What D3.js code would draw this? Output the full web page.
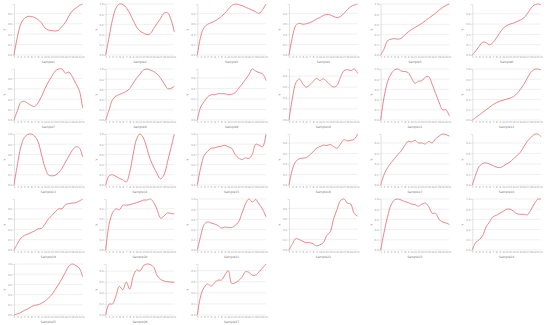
<!DOCTYPE html>
<html><head><meta charset="utf-8">
<script src="https://cdn.jsdelivr.net/npm/d3@7"></script>
<style>html,body{margin:0;padding:0;background:#fff;}svg{display:block;}</style>
</head><body>
<svg id="chart" width="550" height="325"></svg>
<script>
const xLabels = d3.range(1, 22).map(String);
const panelTitles = d3.range(1, 28).map(i => "Sample" + i);

const sample1 = [0,.35,.6,.7,.74,.74,.72,.68,.62,.52,.48,.47,.46,.48,.55,.63,.75,.85,.9,.95,.98];
const sample2 = [0,.35,.7,.92,1,.99,.93,.82,.68,.55,.47,.43,.4,.42,.52,.62,.72,.82,.83,.7,.45];
const sample3 = [0,.36,.53,.59,.62,.65,.69,.74,.8,.88,.95,.98,.97,.95,.92,.89,.86,.83,.8,.87,.98];
const sample4 = [0,.35,.57,.61,.59,.6,.62,.65,.69,.72,.76,.78,.77,.74,.72,.74,.8,.87,.93,.96,.98];
const sample5 = [0,.12,.28,.31,.32,.31,.33,.39,.45,.5,.54,.58,.62,.67,.72,.77,.82,.88,.93,.97,1];
const sample6 = [0,.08,.17,.25,.24,.2,.24,.33,.43,.52,.57,.6,.62,.65,.68,.72,.8,.9,.97,.99,.98];
const sample7 = [0,.18,.34,.36,.32,.28,.26,.33,.45,.6,.73,.84,.94,.98,.98,.9,.92,.83,.7,.57,.23];
const sample8 = [0,.2,.4,.47,.5,.53,.56,.62,.72,.82,.9,.98,1,.98,.95,.9,.82,.72,.62,.62,.66];
const sample9 = [0,.25,.35,.44,.48,.48,.5,.5,.5,.48,.49,.52,.6,.68,.77,.86,.97,.93,.9,.88,.75];
const sample10 = [0,.4,.68,.75,.66,.6,.64,.7,.76,.72,.75,.7,.64,.6,.63,.78,.9,.92,.9,.93,.85];
const sample11 = [0,.45,.75,.9,.98,1,.96,.95,.93,.82,.72,.76,.77,.84,.85,.7,.52,.35,.2,.2,.08];
const sample12 = [0,.05,.1,.15,.2,.25,.3,.34,.37,.39,.41,.43,.46,.52,.6,.7,.82,.93,.99,1,.98];
const sample13 = [0,.4,.75,.93,.99,1,.96,.85,.6,.35,.2,.18,.19,.24,.33,.45,.57,.68,.75,.73,.55];
const sample14 = [0,.18,.2,.17,.13,.1,.06,.25,.6,.9,1,.92,.72,.5,.35,.22,.12,.2,.45,.72,1];
const sample15 = [0,.35,.58,.66,.72,.73,.75,.76,.78,.75,.72,.6,.53,.5,.53,.52,.6,.8,.78,.75,1];
const sample16 = [0,.3,.45,.5,.51,.52,.57,.63,.7,.73,.76,.75,.77,.73,.7,.78,.86,.84,.85,.87,.97];
const sample17 = [0,.2,.33,.42,.5,.58,.65,.75,.83,.82,.85,.8,.8,.78,.83,.8,.88,.93,.97,.96,.93];
const sample18 = [0,.2,.35,.41,.42,.4,.37,.34,.33,.36,.4,.44,.5,.56,.62,.73,.83,.9,.96,.97,.92];
const sample19 = [0,.12,.23,.28,.31,.34,.37,.41,.42,.5,.6,.67,.74,.8,.8,.88,.9,.91,.92,.95,.99];
const sample20 = [0,.5,.72,.8,.78,.87,.87,.88,.9,.92,.94,.97,.97,.99,.92,.78,.62,.66,.72,.71,.7];
const sample21 = [0,.28,.5,.55,.53,.51,.48,.43,.45,.44,.44,.48,.55,.72,.9,1,.94,.99,.9,.8,.65];
const sample22 = [0,.12,.22,.2,.17,.14,.14,.12,.08,.1,.14,.28,.35,.6,.78,.95,.98,.9,.88,.7,.65];
const sample23 = [0,.35,.65,.88,.98,1,.98,.95,.93,.9,.89,.86,.9,.92,.85,.72,.72,.6,.55,.53,.5];
const sample24 = [0,.15,.2,.28,.45,.55,.65,.68,.72,.76,.8,.8,.76,.71,.7,.7,.69,.78,.9,.99,1];
const sample25 = [0,.02,.05,.09,.12,.16,.19,.2,.23,.27,.33,.4,.5,.6,.72,.84,.96,1,.97,.92,.75];
const sample26 = [0,.2,.2,.35,.52,.46,.6,.47,.7,.82,.8,.9,.93,.92,.87,.72,.65,.62,.61,.6,.6];
const sample27 = [0,.35,.5,.56,.52,.58,.63,.63,.72,.8,.57,.58,.62,.68,.78,.77,.72,.72,.78,.85,.92];

const allSeries = [sample1,sample2,sample3,sample4,sample5,sample6,sample7,sample8,sample9,
  sample10,sample11,sample12,sample13,sample14,sample15,sample16,sample17,sample18,
  sample19,sample20,sample21,sample22,sample23,sample24,sample25,sample26,sample27];

const svg = d3.select("#chart");
const cols = 6, cellW = 550 / cols, cellH = 65;
const mL = 14, mR = 9, mT = 4, mB = 10;
const lineColor = "#e47a7c";

allSeries.forEach((vals, i) => {
  const c = i % cols, r = Math.floor(i / cols);
  const g = svg.append("g").attr("transform", `translate(${c * cellW},${r * cellH})`);
  const x = d3.scalePoint().domain(xLabels).range([mL, cellW - mR]);
  const y = d3.scaleLinear().domain(d3.extent(vals)).range([cellH - mB, mT]);
  const ticks = y.ticks(4);
  g.selectAll(".grid").data(ticks).join("line")
    .attr("x1", mL).attr("x2", cellW - mR)
    .attr("y1", d => y(d)).attr("y2", d => y(d))
    .attr("stroke", "#e6e6e6").attr("stroke-width", 0.6);
  const ya = g.append("g").attr("transform", `translate(${mL},0)`)
    .call(d3.axisLeft(y).tickValues(ticks).tickSize(1.5).tickFormat(d3.format(".1f")));
  ya.select(".domain").attr("stroke", "#d0d0d0").attr("stroke-width", 0.6);
  ya.selectAll(".tick line").attr("stroke", "#d0d0d0").attr("stroke-width", 0.5);
  ya.selectAll("text").attr("font-size", 2.6).attr("fill", "#999").attr("x", -2).attr("font-family", "DejaVu Sans");
  const xa = g.append("g").attr("transform", `translate(0,${cellH - mB + 1})`)
    .call(d3.axisBottom(x).tickSize(1));
  xa.select(".domain").remove();
  xa.selectAll(".tick line").attr("stroke", "#d0d0d0").attr("stroke-width", 0.4);
  xa.selectAll("text").attr("font-size", 2.4).attr("fill", "#999").attr("dy", "0.6em").attr("y", 1)
    .attr("font-family", "DejaVu Sans");
  g.append("text").attr("x", (mL + cellW - mR) / 2).attr("y", cellH - 2.5)
    .attr("text-anchor", "middle").attr("font-size", 3).attr("fill", "#777")
    .attr("font-family", "DejaVu Sans").text(panelTitles[i]);
  g.append("text").attr("transform", `translate(${5},${(mT + cellH - mB) / 2}) rotate(-90)`)
    .attr("text-anchor", "middle").attr("font-size", 3).attr("fill", "#777")
    .attr("font-family", "DejaVu Sans").text("y");
  g.append("path").datum(vals)
    .attr("d", d3.line().x((d, k) => x(xLabels[k])).y(d => y(d)).curve(d3.curveCatmullRom.alpha(0.5)))
    .attr("fill", "none").attr("stroke", lineColor).attr("stroke-width", 0.9);
});
</script>
</body></html>
